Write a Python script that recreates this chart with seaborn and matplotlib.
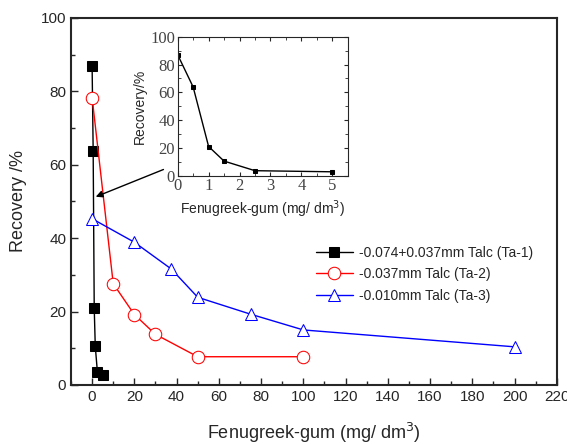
import numpy as np
import pandas as pd
import seaborn as sns
import matplotlib
matplotlib.use("Agg")
import matplotlib.pyplot as plt
from matplotlib.ticker import MultipleLocator

# data
ta1_dose = [0, 0.5, 1, 1.5, 2.5, 5]
ta1_rec = [87.0, 63.8, 21.0, 10.5, 3.6, 2.8]
ta2_dose = [0, 10, 20, 30, 50, 100]
ta2_rec = [78.3, 27.6, 19.2, 13.8, 7.7, 7.7]
ta3_dose = [0, 20, 37.5, 50, 75, 100, 200]
ta3_rec = [45.3, 38.9, 31.6, 23.9, 19.3, 15.0, 10.4]
labels = ["-0.074+0.037mm Talc (Ta-1)", "-0.037mm Talc (Ta-2)", "-0.010mm Talc (Ta-3)"]

sns.set_style("ticks")
plt.rcParams["font.family"] = ["Liberation Sans", "DejaVu Sans"]

fig = plt.figure(figsize=(5.67, 4.44), dpi=100)
ax = fig.add_axes([0.1252, 0.1329, 0.8568, 0.8266])

sns.lineplot(x=ta1_dose, y=ta1_rec, ax=ax, color="black", marker="s", markersize=7,
             markeredgecolor="black", linewidth=1, sort=False, label=labels[0])
sns.lineplot(x=ta2_dose, y=ta2_rec, ax=ax, color="red", marker="o", markersize=9,
             markerfacecolor="white", markeredgecolor="red", linewidth=1, sort=False, label=labels[1])
sns.lineplot(x=ta3_dose, y=ta3_rec, ax=ax, color="blue", marker="^", markersize=9,
             markerfacecolor="white", markeredgecolor="blue", linewidth=1, sort=False, label=labels[2])

ax.set_xlim(-10, 220)
ax.set_ylim(0, 100)
ax.xaxis.set_major_locator(MultipleLocator(20))
ax.xaxis.set_minor_locator(MultipleLocator(10))
ax.yaxis.set_major_locator(MultipleLocator(20))
ax.yaxis.set_minor_locator(MultipleLocator(10))
ax.tick_params(which="both", direction="in", top=False, right=False, labelsize=11, width=1)
ax.tick_params(which="major", length=5)
ax.tick_params(which="minor", length=3)
for s in ax.spines.values():
    s.set_linewidth(1.5)
ax.set_xlabel("Fenugreek-gum (mg/ dm$^3$)", fontsize=13, labelpad=12)
ax.set_ylabel("Recovery /%", fontsize=13, labelpad=10)

ax.legend(loc="upper left", bbox_to_anchor=(0.536, 0.475), bbox_transform=fig.transFigure,
          frameon=False, fontsize=10, handlelength=2.6, handletextpad=0.5, labelspacing=0.55)

# arrow from inset down to the black curve
ax.annotate("", xy=(0.5, 51), xytext=(35, 59),
            arrowprops=dict(arrowstyle="-|>", color="black", lw=1, mutation_scale=10))

# inset with the low dosage part of Ta-1
ins = fig.add_axes([0.3134, 0.6043, 0.2998, 0.313])
sns.lineplot(x=ta1_dose, y=ta1_rec, ax=ins, color="black", marker="s", markersize=3.5,
             markeredgecolor="black", linewidth=1, sort=False)
ins.set_xlim(0, 5.5)
ins.set_ylim(0, 100)
ins.xaxis.set_major_locator(MultipleLocator(1))
ins.xaxis.set_minor_locator(MultipleLocator(0.5))
ins.yaxis.set_major_locator(MultipleLocator(20))
ins.yaxis.set_minor_locator(MultipleLocator(10))
ins.tick_params(which="both", direction="in", top=True, right=True, labelsize=12, pad=2)
ins.tick_params(which="major", length=3)
ins.tick_params(which="minor", length=2)
for lab in ins.get_xticklabels() + ins.get_yticklabels():
    lab.set_family(["Liberation Serif", "DejaVu Serif"])
    lab.set_color("#444444")
ins.set_xlabel("Fenugreek-gum (mg/ dm$^3$)", fontsize=10, labelpad=3)
ins.set_ylabel("Recovery/%", fontsize=10, labelpad=2)

fig.savefig("out.png", dpi=100)
